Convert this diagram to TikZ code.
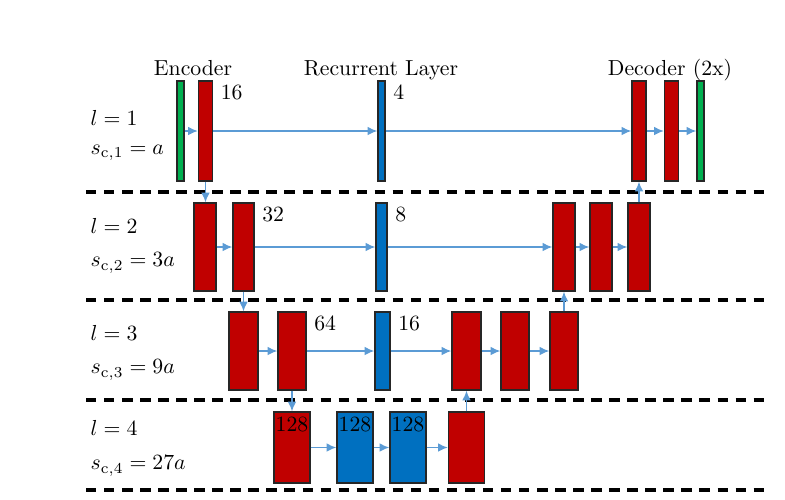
\documentclass[tikz,border=0pt]{standalone}
\usepackage{amsmath}
\usepackage{amssymb}
\usepackage{tikz}
\usepackage{xcolor}
\usetikzlibrary{arrows.meta}
\definecolor{netred}{RGB}{192,0,0}
\definecolor{netblue}{RGB}{0,112,192}
\definecolor{netgreen}{RGB}{0,176,80}
\definecolor{flow}{RGB}{91,155,213}

\begin{document}
\begin{tikzpicture}[x=0.46pt, y=-0.46pt,
        layer/.style={draw=black!85, line width=0.6pt, inner sep=0pt},
        redl/.style={layer, fill=netred},
        bluel/.style={layer, fill=netblue},
        greenl/.style={layer, fill=netgreen},
        sz/.style 2 args={minimum width=#1*0.46pt, minimum height=#2*0.46pt},
        flowarrow/.style={draw=flow, line width=0.7pt, -{Latex[length=4.5pt,width=4pt]}},
        chan/.style={anchor=north west, inner ysep=2pt},
        inchan/.style={anchor=north, inner sep=2.5pt},
        levelsep/.style={line width=1.4pt, dash pattern=on 4.8pt off 3.5pt}]
        \useasboundingbox (0,0) rectangle (785,499);
        % titles
        \node[anchor=base] (enctitle) at (193,75) {Encoder};
        \node[anchor=base] (rectitle) at (381,75) {Recurrent Layer};
        \node[anchor=base] (dectitle) at (670,75) {Decoder (2x)};
        % level separators and labels
        \foreach \y in {192,300,400,490} {
            \draw[levelsep] (86,\y) -- (765,\y);
        }
        \foreach \l/\s/\ya/\yb in {1/a/118/153, 2/3a/226/263, 3/9a/333/370, 4/27a/428/466} {
            \node[anchor=west] (lvl\l) at (83,\ya) {$l = \l$};
            \node[anchor=west] (sc\l) at (83,\yb) {$s_{\mathrm{c},\l} = \s$};
        }
        % level 1
        \node[greenl, sz={7}{100}] (in1) at (180.5,131) {};
        \node[redl, sz={14}{100}] (e11) at (205.5,131) {};
        \node[bluel, sz={7}{100}] (r1) at (381.5,131) {};
        \node[redl, sz={14}{100}] (d11) at (639,131) {};
        \node[redl, sz={14}{100}] (d12) at (671.5,131) {};
        \node[greenl, sz={7}{100}] (out1) at (700.5,131) {};
        \node[chan] (n16a) at (e11.north east) {16};
        \node[chan] (n4) at (r1.north east) {4};
        % level 2
        \node[redl, sz={22}{88}] (e21) at (205,247) {};
        \node[redl, sz={21}{88}] (e22) at (243.5,247) {};
        \node[bluel, sz={11}{88}] (r2) at (381.5,247) {};
        \node[redl, sz={22}{88}] (d21) at (564,247) {};
        \node[redl, sz={22}{88}] (d22) at (601,247) {};
        \node[redl, sz={22}{88}] (d23) at (639,247) {};
        \node[chan] (n32) at (e22.north east) {32};
        \node[chan] (n8) at (r2.north east) {8};
        % level 3
        \node[redl, sz={29}{78}] (e31) at (243.5,351) {};
        \node[redl, sz={28}{78}] (e32) at (292,351) {};
        \node[bluel, sz={15}{78}] (r3) at (382.5,351) {};
        \node[redl, sz={29}{78}] (d31) at (466.5,351) {};
        \node[redl, sz={28}{78}] (d32) at (515,351) {};
        \node[redl, sz={28}{78}] (d33) at (564,351) {};
        \node[chan] (n64) at (e32.north east) {64};
        \node[chan] (n16b) at (r3.north east) {16};
        % level 4
        \node[redl, sz={36}{71}] (e41) at (292,447.5) {};
        \node[bluel, sz={36}{71}] (r41) at (355,447.5) {};
        \node[bluel, sz={36}{71}] (r42) at (408,447.5) {};
        \node[redl, sz={36}{71}] (d41) at (466.5,447.5) {};
        \node[inchan] (n128a) at (e41.north) {128};
        \node[inchan] (n128b) at (r41.north) {128};
        \node[inchan] (n128c) at (r42.north) {128};
        % connections
        \foreach \a/\b in {in1/e11, e11/r1, r1/d11, d11/d12, d12/out1,
                           e21/e22, e22/r2, r2/d21, d21/d22, d22/d23,
                           e31/e32, e32/r3, r3/d31, d31/d32, d32/d33,
                           e41/r41, r41/r42, r42/d41} {
            \draw[flowarrow] (\a) -- (\b);
        }
        \draw[flowarrow] (e11.south) -- (e11.south |- e21.north);
        \draw[flowarrow] (e22.south) -- (e22.south |- e31.north);
        \draw[flowarrow] (e32.south) -- (e32.south |- e41.north);
        \draw[flowarrow] (d41.north) -- (d41.north |- d31.south);
        \draw[flowarrow] (d33.north) -- (d33.north |- d21.south);
        \draw[flowarrow] (d23.north) -- (d23.north |- d11.south);
    \end{tikzpicture}
\end{document}
